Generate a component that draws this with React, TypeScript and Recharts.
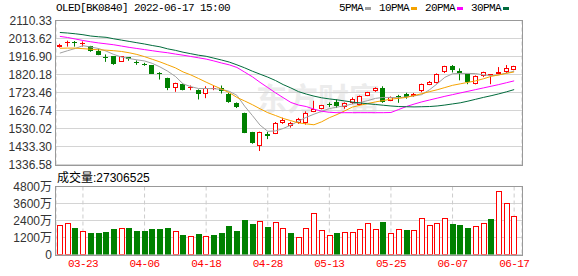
import { Bar, CartesianGrid, ComposedChart, Line, XAxis, YAxis } from "recharts";

// trading days shown on the chart
const dates = [
  "03-18", "03-21", "03-22", "03-23", "03-24", "03-25", "03-28", "03-29", "03-30", "03-31",
  "04-01", "04-06", "04-07", "04-08", "04-11", "04-12", "04-13", "04-14", "04-15", "04-18",
  "04-19", "04-20", "04-21", "04-22", "04-25", "04-26", "04-27", "04-28", "04-29", "05-05",
  "05-06", "05-09", "05-10", "05-11", "05-12", "05-13", "05-16", "05-17", "05-18", "05-19",
  "05-20", "05-23", "05-24", "05-25", "05-26", "05-27", "05-30", "05-31", "06-01", "06-02",
  "06-06", "06-07", "06-08", "06-09", "06-10", "06-13", "06-14", "06-15", "06-16", "06-17",
];

const opens = [
  1970, 1988, 1995, 1984, 1974, 1949, 1916, 1917, 1890, 1913,
  1888, 1879, 1869, 1830, 1801, 1745, 1771, 1749, 1739, 1718,
  1745, 1750, 1718, 1668, 1615, 1510, 1434, 1503, 1502, 1558,
  1544, 1558, 1562, 1618, 1633, 1661, 1675, 1647, 1668, 1658,
  1707, 1729, 1750, 1679, 1703, 1714, 1704, 1732, 1766, 1775,
  1832, 1867, 1839, 1821, 1771, 1810, 1819, 1825, 1831, 1846,
];
const highs = [
  1985, 2002, 2000, 1998, 1974, 1959, 1928, 1917, 1918, 1914,
  1896, 1883, 1871, 1833, 1803, 1776, 1771, 1761, 1740, 1757,
  1761, 1761, 1721, 1670, 1615, 1512, 1513, 1512, 1565, 1588,
  1566, 1587, 1622, 1679, 1657, 1670, 1686, 1670, 1697, 1707,
  1727, 1751, 1757, 1702, 1711, 1722, 1721, 1771, 1785, 1826,
  1867, 1871, 1853, 1821, 1815, 1835, 1822, 1860, 1871, 1867,
];
const lows = [
  1965, 1970, 1970, 1970, 1942, 1924, 1888, 1872, 1888, 1894,
  1872, 1867, 1823, 1793, 1736, 1727, 1735, 1736, 1686, 1693,
  1736, 1718, 1668, 1640, 1505, 1448, 1409, 1473, 1500, 1555,
  1535, 1555, 1551, 1618, 1633, 1645, 1640, 1636, 1661, 1655,
  1704, 1727, 1668, 1677, 1668, 1690, 1700, 1725, 1763, 1772,
  1828, 1831, 1789, 1768, 1767, 1806, 1768, 1821, 1828, 1843,
];
const closes = [
  1977, 1995, 1988, 1990, 1946, 1926, 1910, 1878, 1917, 1901,
  1884, 1876, 1825, 1821, 1748, 1775, 1736, 1751, 1718, 1750,
  1749, 1729, 1675, 1647, 1505, 1450, 1512, 1491, 1562, 1578,
  1558, 1580, 1615, 1636, 1654, 1658, 1650, 1668, 1686, 1704,
  1725, 1750, 1672, 1700, 1701, 1697, 1718, 1768, 1780, 1821,
  1864, 1842, 1828, 1778, 1814, 1832, 1822, 1831, 1853, 1864,
];
// volume in 万
const volumes = [
  2110, 2250, 1900, 1690, 1550, 1550, 1620, 1780, 1900, 1900,
  1690, 1690, 1830, 1830, 1900, 1690, 1400, 1330, 1480, 1330,
  1400, 1550, 2040, 1690, 2460, 2180, 2390, 1970, 2320, 1900,
  1550, 1240, 1900, 2950, 1760, 1380, 1550, 1620, 1620, 1830,
  2250, 1830, 2320, 1550, 1830, 1760, 1760, 2600, 2110, 2250,
  2600, 2180, 2110, 1900, 2040, 2250, 2530, 4500, 3650, 2730.6525,
];

const ma5 = [
  1935, 1948, 1960, 1975, 1968, 1960, 1946, 1928, 1914, 1906,
  1899, 1893, 1880, 1861, 1838, 1810, 1770, 1755, 1745, 1745,
  1744, 1740, 1730, 1708, 1650, 1600, 1548, 1515, 1517, 1530,
  1548, 1570, 1590, 1607, 1622, 1637, 1645, 1652, 1662, 1670,
  1680, 1692, 1697, 1697, 1695, 1700, 1705, 1712, 1738, 1770,
  1805, 1824, 1826, 1826, 1825, 1818, 1814, 1818, 1828, 1838,
];
const ma10 = [
  1961, 1962, 1962, 1959, 1956, 1953, 1951, 1948, 1944, 1937,
  1928, 1916, 1902, 1888, 1872, 1856, 1834, 1818, 1799, 1779,
  1760, 1742, 1723, 1697, 1678, 1658, 1636, 1615, 1600, 1584,
  1572, 1560, 1555, 1550, 1566, 1588, 1605, 1625, 1645, 1655,
  1664, 1673, 1680, 1688, 1692, 1697, 1707, 1717, 1728, 1738,
  1750, 1762, 1770, 1778, 1786, 1797, 1810, 1818, 1826, 1834,
];
const ma20 = [
  2025, 2019, 2011, 2003, 1996, 1990, 1985, 1980, 1973, 1966,
  1960, 1954, 1948, 1942, 1937, 1930, 1924, 1917, 1910, 1903,
  1893, 1882, 1872, 1858, 1833, 1808, 1778, 1750, 1722, 1696,
  1670, 1656, 1648, 1634, 1623, 1617, 1615, 1615, 1615, 1615,
  1615, 1615, 1615, 1616, 1632, 1648, 1661, 1673, 1683, 1693,
  1703, 1712, 1721, 1730, 1739, 1748, 1757, 1766, 1776, 1786,
];
const ma30 = [
  2046, 2043, 2039, 2034, 2027, 2023, 2020, 2012, 2005, 1998,
  1991, 1984, 1976, 1969, 1958, 1950, 1940, 1932, 1924, 1918,
  1908, 1898, 1887, 1872, 1856, 1838, 1822, 1806, 1788, 1766,
  1748, 1728, 1715, 1704, 1695, 1689, 1684, 1678, 1672, 1667,
  1663, 1659, 1655, 1651, 1648, 1647, 1646, 1647, 1648, 1651,
  1656, 1662, 1668, 1677, 1687, 1697, 1706, 1716, 1727, 1739,
];

const priceTicks = [1336.58, 1433.3, 1530.02, 1626.74, 1723.46, 1820.18, 1916.9, 2013.62, 2110.33];
const volumeTicks = [0, 1200, 2400, 3600, 4800];
const labelDates = ["03-23", "04-06", "04-18", "04-28", "05-13", "05-25", "06-07", "06-17"];

const RED = "#ff0000";
const GREEN = "#008000";
const MONO = '"Liberation Mono", "DejaVu Sans Mono", monospace';
const SANS = '"Liberation Sans", Arial, sans-serif';
const CJK = '"Liberation Sans", "Noto Sans CJK SC", sans-serif';

const maSeries = [
  { key: "ma5", name: "5PMA", color: "#a0a0a0" },
  { key: "ma10", name: "10PMA", color: "#f5a300" },
  { key: "ma20", name: "20PMA", color: "#ff00ff" },
  { key: "ma30", name: "30PMA", color: "#006b3c" },
];

const rows = dates.map((date, i) => ({
  date,
  open: opens[i],
  high: highs[i],
  low: lows[i],
  close: closes[i],
  vol: volumes[i],
  volUp: i === 0 ? closes[i] >= opens[i] : closes[i] >= closes[i - 1],
  ma5: ma5[i],
  ma10: ma10[i],
  ma20: ma20[i],
  ma30: ma30[i],
}));

const W = 578;
const LEFT = 56;
const RIGHT = 56;

function CandleShape(props: any) {
  const { x, y, width, height, payload } = props;
  const { open, close, high, low } = payload;
  const up = close >= open;
  const color = up ? RED : GREEN;
  const k = high > low ? height / (high - low) : 0;
  const py = (v: number) => y + (high - v) * k;
  const left = Math.round(x);
  const w = Math.round(width) - 1;
  const cx = left + Math.floor(w / 2) + 0.5;
  const top = Math.round(py(Math.max(open, close)));
  const bottom = Math.round(py(Math.min(open, close)));

  if (up) {
    const h = Math.max(bottom - top - 1, 0);
    return (
      <g>
        <line x1={cx} x2={cx} y1={y} y2={top} stroke={color} />
        <line x1={cx} x2={cx} y1={bottom} y2={y + height} stroke={color} />
        {h > 0 ? (
          <rect x={left + 0.5} y={top + 0.5} width={w - 1} height={h} fill="#fff" stroke={color} />
        ) : (
          <line x1={left} x2={left + w} y1={top + 0.5} y2={top + 0.5} stroke={color} />
        )}
      </g>
    );
  }
  return (
    <g>
      <line x1={cx} x2={cx} y1={y} y2={y + height} stroke={color} />
      <rect x={left} y={top} width={w} height={Math.max(bottom - top, 1)} fill={color} />
    </g>
  );
}

function VolumeShape(props: any) {
  const { x, y, width, height, payload } = props;
  const left = Math.round(x);
  const w = Math.round(width);
  const top = Math.round(y);
  const bottom = Math.round(y + height);
  if (payload.volUp) {
    return (
      <rect x={left + 0.5} y={top + 0.5} width={w - 1} height={bottom - top - 1} fill="#fff" stroke={RED} />
    );
  }
  return <rect x={left} y={top} width={w} height={bottom - top} fill={GREEN} />;
}

function Frame({ top, height }: { top: number; height: number }) {
  return (
    <div
      style={{
        position: "absolute",
        left: LEFT - 1,
        top,
        width: W - LEFT - RIGHT + 2,
        height,
        boxSizing: "border-box",
        border: "1px solid #999",
        pointerEvents: "none",
      }}
    />
  );
}

export default function App() {
  const last = volumes[volumes.length - 1];
  return (
    <div
      style={{
        position: "absolute",
        left: 0,
        top: 0,
        width: W,
        height: 276,
        background: "#fff",
        overflow: "hidden",
      }}
    >
      <div
        style={{
          position: "absolute",
          left: 256,
          top: 74,
          fontFamily: '"Noto Sans CJK SC", sans-serif',
          fontWeight: 700,
          fontSize: 31,
          color: "#ececec",
        }}
      >
        东方财富
      </div>

      <div
        style={{
          position: "absolute",
          left: 56,
          top: 2,
          fontFamily: MONO,
          fontSize: 11,
          lineHeight: "13px",
          letterSpacing: -0.6,
          color: "#000",
          whiteSpace: "pre",
        }}
      >
        OLED[BK0840] 2022-06-17 15:00
      </div>

      <div
        style={{
          position: "absolute",
          left: 339,
          top: 2,
          display: "flex",
          alignItems: "center",
          fontFamily: MONO,
          fontSize: 11,
          lineHeight: "13px",
          letterSpacing: -0.6,
          color: "#000",
        }}
      >
        {maSeries.map((s) => (
          <span key={s.key} style={{ display: "flex", alignItems: "center", marginRight: 8 }}>
            <span>{s.name}</span>
            <span style={{ width: 6, height: 3, background: s.color, marginLeft: 2 }} />
          </span>
        ))}
      </div>

      <div style={{ position: "absolute", left: 0, top: 0 }}>
        <ComposedChart
          width={W}
          height={176}
          data={rows}
          margin={{ top: 20.5, right: RIGHT, bottom: 11.5, left: 0 }}
        >
          <CartesianGrid horizontal vertical={false} stroke="#d4d4d4" />
          <CartesianGrid horizontal={false} vertical stroke="#cccccc" strokeDasharray="4 3" />
          <XAxis
            dataKey="date"
            ticks={labelDates}
            interval={0}
            height={0}
            tick={false}
            tickLine={false}
            axisLine={false}
            padding={{ left: 0, right: 4 }}
          />
          <YAxis
            type="number"
            width={LEFT}
            domain={[1336.58, 2110.33]}
            ticks={priceTicks}
            interval={0}
            allowDataOverflow
            tickLine={false}
            axisLine={false}
            tickSize={0}
            tickMargin={4}
            tickFormatter={(v: number) => v.toFixed(2)}
            tick={{ fill: "#333", fontSize: 12, fontFamily: SANS }}
          />
          <Bar
            dataKey={(d: any) => [d.low, d.high]}
            barSize={6}
            shape={CandleShape}
            isAnimationActive={false}
          />
          {maSeries.map((s) => (
            <Line
              key={s.key}
              type="linear"
              dataKey={s.key}
              stroke={s.color}
              strokeWidth={1}
              dot={false}
              activeDot={false}
              isAnimationActive={false}
            />
          ))}
        </ComposedChart>
      </div>
      <Frame top={20} height={146} />

      <div
        style={{
          position: "absolute",
          left: 57,
          top: 171,
          fontFamily: CJK,
          fontSize: 12,
          lineHeight: "14px",
          color: "#000",
        }}
      >
        成交量:{Math.round(last * 10000)}
      </div>

      <div style={{ position: "absolute", left: 0, top: 166 }}>
        <ComposedChart
          width={W}
          height={110}
          data={rows}
          margin={{ top: 20.5, right: RIGHT, bottom: 0, left: 0 }}
        >
          <CartesianGrid horizontal vertical={false} stroke="#d4d4d4" />
          <CartesianGrid horizontal={false} vertical stroke="#cccccc" strokeDasharray="4 3" />
          <XAxis
            dataKey="date"
            ticks={labelDates}
            interval={0}
            height={21.5}
            tickLine={false}
            axisLine={false}
            tickSize={0}
            tickMargin={5}
            padding={{ left: 0, right: 4 }}
            tick={{ fill: RED, fontSize: 11, fontFamily: MONO, letterSpacing: -0.6 }}
          />
          <YAxis
            type="number"
            width={LEFT}
            domain={[0, 4800]}
            ticks={volumeTicks}
            interval={0}
            allowDataOverflow
            tickLine={false}
            axisLine={false}
            tickSize={0}
            tickMargin={4}
            tickFormatter={(v: number) => (v === 0 ? "0" : `${v}万`)}
            tick={{ fill: "#333", fontSize: 12, fontFamily: CJK }}
          />
          <Bar dataKey="vol" barSize={6} shape={VolumeShape} isAnimationActive={false} />
        </ComposedChart>
      </div>
      <Frame top={186} height={70} />
    </div>
  );
}
